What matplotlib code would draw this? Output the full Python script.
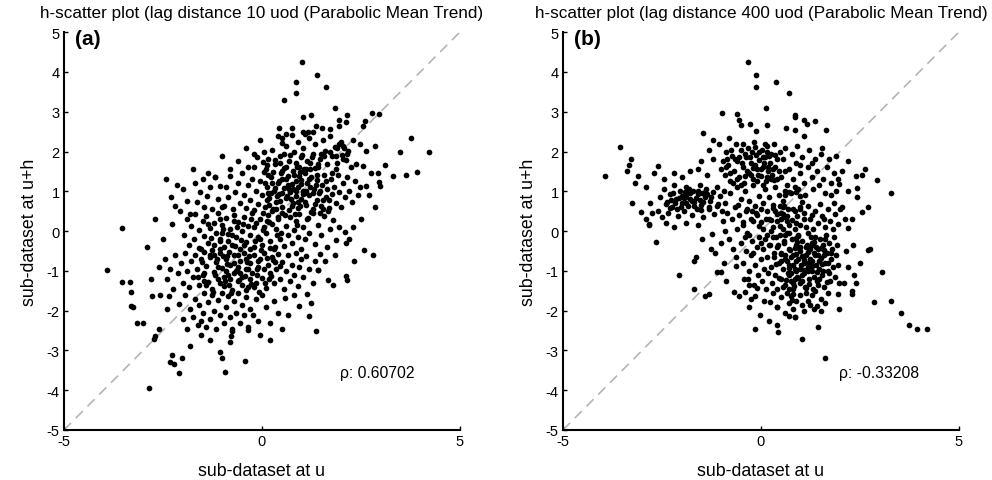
import numpy as np
import matplotlib
matplotlib.use("Agg")
import matplotlib.pyplot as plt

plt.rcParams['font.family'] = ['Liberation Sans', 'DejaVu Sans']
plt.rcParams['axes.unicode_minus'] = False

# panel (a): lag distance 10 (x = value at u, y = value at u+h)
a_x = [
    # upper core
    -0.35, -0.2, -0.05, 0.1, 0.15, 0.25, 0.32, 0.4, 0.45, 0.55, 0.6, 0.68, 0.75, 0.8, 0.88, 0.92, 1.0, 1.05,
    1.12, 1.18, 1.22, 1.3, 1.35, 1.42, 1.48, 1.55, 1.6, 1.65, 1.72, 1.78, 1.85, 1.9, 1.95, 2.02, 2.08, 2.12,
    2.18, 2.0, 1.88, 2.25, 2.3, 0.05, -0.4, 0.5, 1.1, 1.9, 2.05, 2.15, 2.05, 1.88,
    # middle core
    -0.95, -0.9, -0.85, -0.8, -0.72, -0.68, -0.6, -0.55, -0.5, -0.45, -0.4, -0.35, -0.3, -0.25, -0.2, -0.15,
    -0.1, -0.05, 0.0, 0.05, 0.08, 0.12, 0.18, 0.22, 0.28, 0.3, 0.35, 0.4, 0.42, 0.48, 0.52, 0.55, 0.6, 0.62,
    0.68, 0.7, 0.75, 0.78, 0.82, 0.85, 0.9, 0.92, 0.98, 1.0, 1.05, 1.08, 1.12, 1.15, 1.2, 1.25, 1.28, 1.32,
    1.38, 1.4, 1.45, 1.5, 1.52, 1.58, 1.62, 1.65, 1.7, 1.75, 1.78, 1.82, 1.88, 1.92, 1.95, 2.0, 2.05, 2.1,
    2.15, 2.2, 2.28, 2.35, 2.42, 2.48, 0.15, 0.65, 1.1, 0.95, 0.45, 1.35, 0.25, 0.75, 1.55, 1.0, 0.5, 1.22,
    0.85, 0.35,
    -2.43, -2.3, -2.19, -2.06, -2.0, -1.9, -1.81, -1.73, -1.7, -1.63, -1.56, -1.5, -1.45, -1.39, -1.3, -1.25,
    -1.18, -1.1, -1.06, -1.02, -1.35, -2.15,
    # around zero
    -1.98, -1.9, -1.85, -1.8, -1.72, -1.68, -1.6, -1.55, -1.5, -1.45, -1.4, -1.35, -1.3, -1.25, -1.2, -1.15,
    -1.1, -1.05, -1.0, -0.95, -0.9, -0.85, -0.8, -0.75, -0.7, -0.65, -0.6, -0.55, -0.5, -0.45, -0.4, -0.35,
    -0.3, -0.25, -0.2, -0.15, -0.1, -0.05, 0.0, 0.05, 0.1, 0.15, 0.2, 0.25, 0.3, 0.35, 0.4, 0.45, 0.5, 0.55,
    0.6, 0.65, 0.7, 0.75, 0.8, 0.85, 0.9, 0.95, 1.0, 1.05, 1.1, 1.15, 1.2, 1.3, 1.35, 1.42, 1.5, 1.58, 1.65,
    1.72, 1.8, 1.88, 1.95, -0.62, 0.12, 0.48, -0.28, 0.88, -1.05, 0.2,
    # lower core
    -2.45, -2.4, -2.32, -2.25, -2.2, -2.12, -2.05, -2.0, -1.95, -1.9, -1.85, -1.8, -1.75, -1.7, -1.65, -1.6,
    -1.55, -1.5, -1.45, -1.4, -1.35, -1.3, -1.25, -1.2, -1.15, -1.1, -1.05, -1.0, -0.95, -0.9, -0.85, -0.8,
    -0.75, -0.7, -0.65, -0.6, -0.55, -0.5, -0.45, -0.4, -0.35, -0.3, -0.25, -0.2, -0.15, -0.1, -0.05, 0.0,
    0.05, 0.1, 0.15, 0.2, 0.25, 0.3, 0.35, 0.4, 0.45, 0.5, 0.55, 0.6, 0.65, 0.7, 0.75, 0.8, 0.85, 0.9, 0.95,
    1.0, 1.05, 1.12, 1.2, 1.28, 1.35, 1.42, 1.48, -0.9, -0.7, -1.2, -0.5, -1.05, -0.3, -0.6, -0.12, -1.45,
    -0.82, 0.18, -1.62, -0.4, -0.98, 0.32,
    -2.4, -2.35, -2.09, -2.0, -1.95, -1.88, -1.82, -1.75, -1.7, -1.62, -1.58, -1.5, -1.45, -1.4, -1.35, -1.3,
    -1.25, -1.2, -1.15, -1.1, -1.05, -1.0, -0.95, -0.9, -0.85, -0.8, -0.75, -0.7, -0.65, -0.6, -0.55, -0.5,
    -0.45, -0.4, -0.35, -0.3, -0.22, -0.15, -0.1, 0.0, 0.1, 0.2, 0.3, 0.4, -1.55,
    # scattered points
    1.02, 1.39, 0.85, 1.63, 0.87, 0.56, 1.84, 2.79, 2.95, 2.61, 2.55, 1.04, 1.25, 1.96, 2.15, 2.13, 0.44,
    0.75, 0.62, 0.5, 1.04, 1.16, 1.29, 1.37, 1.53, 1.71, 1.96, 3.77, 4.23, 3.49, 2.87, 3.1, 3.31, 3.64, 3.91,
    2.95, 2.99, 2.63, 2.47, 2.64, 2.38, 2.55, 2.76, 2.93, 2.7, 2.85, 2.5, 2.3, 2.2,
    -1.18, -0.81, -0.2, -0.13, 0.03, -0.6, -1.0, -3.53, -2.27, -2.5, -2.7,
    -3.92, -2.86, -3.53, -3.32, -3.3, -3.31, -3.25, -3.16, -3.0, -2.78, -2.58, -2.61, -2.69, -2.72, -1.81,
    -2.27, -2.32, -2.22, -2.03, -2.09, -1.07, -1.0, -0.94, -0.42, -0.81, -0.78, -0.75, -1.3, -1.55, -0.36,
    1.36, 0.65, 0.93, 1.18, 1.23, 1.13, 0.59, 1.67, 1.8, 2.12, 2.15, 1.42, 2.33, 2.59, 2.8, 2.13, 2.1, 1.6,
    1.85, 0.8, 0.5, -0.05, 0.2, -2.6, -2.8, -2.9,
    # extra points in the dense upper core
    0.02, 0.12, 0.22, 0.33, 0.41, 0.52, 0.63, 0.71, 0.83, 0.94,
    1.03, 1.14, 1.24, 1.33, 1.46, 1.57, 1.66, 1.77, 0.07, 0.18,
    0.29, 0.38, 0.47, 0.58, 0.67, 0.79, 0.87, 0.97, 1.07, 1.17,
    1.27, 1.37, 1.47, 1.61, 1.72, 0.13, 0.56, 0.96, 1.42, 0.73,
    1.18, 0.32, 0.85, 1.55, 0.44, 1.08, 0.62, 1.3, 0.9, 1.7,
    0.25, 0.78, 1.22, 1.5, 0.5, 1.02, 1.38, 0.15, 0.68, 1.12,
    # extra points in the dense lower core
    -1.58, -1.47, -1.36, -1.24, -1.13, -1.02, -0.93, -0.82, -0.71, -0.62,
    -0.52, -0.41, -0.32, -0.21, -0.12, -0.02, 0.08, 0.17, 0.28, 0.38,
    0.46, -1.52, -1.4, -1.29, -1.18, -1.07, -0.97, -0.87, -0.77, -0.67,
    -0.57, -0.47, -0.37, -0.27, -0.17, -0.07, 0.03, 0.13, 0.23, 0.33,
    -1.1, -0.85, -0.6, -0.35, -0.1, -0.95, -0.7, -0.45, -0.2, 0.05,
    -1.3, -1.05, -0.8, -0.55, -0.3, -1.2, -0.75, -0.42, -0.05, -0.88,
]
a_y = [
    1.62, 1.95, 2.3, 1.55, 1.82, 2.05, 1.68, 2.38, 1.9, 1.58, 2.15, 1.75, 2.42, 1.98, 1.62, 2.25, 1.85, 2.1,
    1.55, 2.35, 1.72, 1.95, 2.2, 1.6, 1.82, 2.28, 2.02, 1.68, 2.4, 1.88, 2.12, 1.7, 2.2, 1.92, 2.08, 1.78,
    2.02, 2.25, 1.55, 1.62, 2.3, 2.0, 2.1, 2.22, 2.45, 2.1, 2.15, 1.95, 1.8, 1.88,
    0.62, 1.1, 0.85, 1.38, 0.55, 0.98, 1.22, 0.7, 1.45, 0.9, 0.58, 1.15, 0.78, 1.32, 0.52, 1.02,
    0.68, 1.25, 0.9, 1.48, 0.6, 1.12, 0.82, 1.35, 0.55, 1.0, 0.72, 1.22, 0.92, 1.45, 0.6, 1.08, 0.82, 1.3,
    0.52, 0.98, 1.18, 0.7, 1.42, 0.88, 1.1, 0.58, 1.28, 0.8, 1.02, 1.45, 0.65, 1.2, 0.9, 1.35, 0.55, 1.05,
    0.78, 1.28, 0.95, 0.62, 1.15, 1.42, 0.85, 1.05, 0.58, 1.3, 0.92, 1.12, 0.7, 1.4, 0.98, 0.6, 1.2, 0.85,
    1.35, 1.02, 0.72, 1.25, 0.9, 1.1, 0.95, 1.15, 0.95, 1.38, 0.75, 0.68, 1.2, 0.62, 0.78, 1.18, 1.32, 1.12,
    1.0, 0.55,
    1.32, 0.85, 0.64, 0.51, 1.05, 0.75, 0.43, 1.56, 1.2, 0.72, 0.97, 1.3, 0.6, 0.89, 1.12, 0.55,
    1.37, 0.8, 1.14, 0.6, 1.45, 1.15,
    -0.1, 0.3, -0.35, 0.12, -0.2, 0.42, 0.02, -0.45, 0.25, -0.12, 0.38, -0.3, 0.08, -0.48, 0.2, -0.05,
    0.45, -0.25, 0.15, -0.4, 0.32, -0.08, 0.05, -0.35, 0.4, -0.15, 0.22, -0.45, 0.0, 0.35, -0.28, 0.12,
    -0.1, 0.45, -0.4, 0.2, -0.15, 0.3, -0.35, 0.1, -0.05, 0.4, -0.25, 0.18, -0.45, 0.05, 0.3, -0.2, 0.45, -0.38,
    0.12, -0.1, 0.35, -0.3, 0.02, 0.25, -0.15, 0.42, -0.45, 0.1, -0.2, 0.3, -0.05, 0.45, -0.32, 0.15, -0.1, 0.38, -0.4,
    0.05, 0.28, -0.22, 0.1, 0.1, 0.25, -0.05, 0.3, 0.15, 0.3, -0.42,
    -0.7, -1.2, -0.95, -1.45, -0.6, -1.05, -0.8, -1.3, -0.55, -1.0, -1.4, -0.75, -1.15, -0.6, -0.95, -1.35,
    -0.7, -1.1, -0.52, -0.88, -1.28, -0.65, -1.45, -1.02, -0.78, -1.2, -0.55, -0.92, -1.38, -0.7, -1.1, -0.85,
    -1.48, -0.6, -1.0, -1.25, -0.75, -1.15, -0.55, -0.95, -1.4, -0.8, -1.05, -0.6, -1.3, -0.9, -0.7, -1.18,
    -0.55, -1.42, -0.85, -1.05, -0.65, -1.3, -0.95, -0.58, -1.2, -0.78, -1.45, -1.0, -0.6, -1.25, -0.85, -1.1, -0.55, -1.38, -0.9,
    -0.7, -1.15, -0.62, -0.95, -1.3, -0.75, -0.97, -0.58, -1.0, -0.8, -0.6, -1.35, -1.3, -1.2, -0.9, -1.1, -1.25,
    -1.35, -1.2, -1.15, -0.7, -0.62, -0.78,
    -1.96, -1.63, -1.83, -2.2, -1.6, -2.45, -1.95, -2.15, -1.7, -2.35, -1.85, -2.05, -1.55, -2.4, -1.78, -2.2,
    -1.6, -2.0, -2.45, -1.72, -2.1, -1.55, -2.3, -1.9, -1.62, -2.15, -2.45, -1.75, -2.05, -1.55, -2.3, -1.85,
    -2.1, -1.65, -2.4, -1.95, -2.11, -1.7, -2.25, -1.6, -1.9, -2.3, -1.75, -2.05, -2.25,
    4.24, 3.92, 3.75, 3.63, 3.48, 3.3, 3.09, 2.98, 2.94, 2.77, 2.65, 2.86, 2.91, 2.8, 2.91, 2.75, 2.6,
    2.58, 2.44, 2.33, 2.5, 2.5, 2.5, 2.65, 2.58, 2.56, 2.63, 2.33, 1.98, 1.99, 2.13, 1.66, 1.39, 1.41, 1.49,
    1.24, 1.14, 1.14, 2.18, 2.01, 1.68, 1.64, 1.47, 1.47, 0.9, 0.6, 0.3, 0.1, -0.2,
    1.37, 1.56, 1.6, 1.85, 1.73, 1.75, 1.9, 0.08, 0.18, -0.2, 0.3,
    -0.97, -3.95, -1.29, -1.27, -1.52, -1.88, -1.9, -2.3, -2.31, -1.63, -1.61, -2.46, -2.65, -2.71, -2.9,
    -3.12, -3.28, -3.34, -3.2, -3.57, -3.03, -3.2, -3.53, -3.26, -2.8, -2.65, -2.5, -2.75, -2.6, -2.48,
    -2.52, -2.11, -1.88, -2.14, -1.8, -1.59, -1.69, -1.22, -1.36, -1.12, -1.22, -0.97, -0.74, -0.47, -0.6, -0.3, -0.03, -0.75,
    -0.6, -1.6, -2.45, -2.6, -2.75, -0.9, -1.2, -0.4,
    0.45, 1.65, 0.95, 1.78, 0.35, 1.52, 0.88, 1.92, 0.42, 1.6,
    0.92, 1.75, 0.48, 1.58, 1.02, 1.88, 0.5, 1.45, 1.22, 0.65,
    1.48, 0.88, 1.7, 0.4, 1.38, 1.05, 1.72, 0.62, 1.55, 0.32,
    1.85, 1.15, 0.45, 1.25, 1.98, 0.78, 1.95, 1.48, 1.68, 0.8,
    1.3, 1.08, 1.25, 0.55, 1.25, 0.72, 1.62, 0.95, 0.72, 0.78,
    0.5, 1.52, 1.55, 1.95, 0.95, 1.92, 1.4, 1.4, 1.05, 1.02,
    -0.42, -1.05, 0.18, -1.52, -0.7, -0.05, -1.25, -0.52, 0.25, -0.98,
    -0.22, -1.48, -0.62, 0.1, -0.95, -0.48, -1.3, 0.22, -0.72, -0.1,
    -0.88, -0.78, -1.35, -0.18, -1.1, -0.45, 0.05, -0.82, -1.55, -0.38,
    -1.22, 0.18, -0.78, -1.32, -0.25, -1.52, 0.02, -0.68, -1.12, -0.4,
    -0.9, -0.25, -0.6, -0.95, -0.75, -1.15, -1.05, -0.35, -1.4, -0.95,
    -0.6, -0.2, -1.2, -1.05, -0.45, -0.35, -0.1, -1.12, -0.2, -0.62,
]

# panel (b): lag distance 400
b_x = [
    -1.0, -0.95, -0.9, -0.88, -0.82, -0.78, -0.72, -0.68, -0.62, -0.6, -0.55, -0.5, -0.45, -0.42, -0.38, -0.32,
    -0.3, -0.25, -0.2, -0.18, -0.12, -0.1, -0.05, 0.0, 0.02, 0.05, 0.1, 0.12, 0.15, 0.18, 0.22, 0.25, 0.28,
    0.32, 0.35, 0.4, 0.42, 0.48, -0.15, 0.08, -0.4, 0.2, -0.05, 0.3, -0.7, -0.25, 0.45, -0.55, 0.15, -0.85,
    -2.6, -2.55, -2.5, -2.45, -2.4, -2.35, -2.3, -2.25, -2.2, -2.15, -2.1, -2.05, -2.0, -1.95, -1.9, -1.88,
    -1.85, -1.8, -1.75, -1.72, -1.68, -1.62, -1.6, -1.55, -1.5, -1.45, -1.42, -1.38, -1.32, -1.28, -1.22,
    -1.18, -1.12, -1.08, -1.02, -0.98, -0.92, -1.95, -1.78, -2.08, -1.65, -2.28, -1.48, -1.9, -1.3,
    -0.95, -0.9, -0.85, -0.78, -0.72, -0.65, -0.6, -0.55, -0.5, -0.45, -0.4, -0.35, -0.3, -0.25, -0.2, -0.15,
    -0.1, -0.05, 0.0, 0.05, 0.1, 0.15, 0.2, 0.25, 0.3, 0.35, 0.4, 0.45, 0.5, 0.55, 0.6, 0.65, -0.58, -0.22, 0.12,
    0.52, 0.55, 0.6, 0.65, 0.7, 0.75, 0.78, 0.82, 0.88, 0.92, 0.95, 1.0, 1.05, 1.1, 1.12, 1.18, 1.22, 1.28,
    1.32, 1.38, 1.42, 1.48, 1.52, 1.58, 1.62, 1.68, 1.72, 1.78, 1.85, 1.9, 1.95, 0.6, 1.0, 0.85, 1.3,
    0.55, 0.6, 0.72, 0.88, 1.0, 1.05, 0.98, 0.85, 0.68, 0.58,
    0.3, 0.35, 0.42, 0.48, 0.55, 0.62, 0.7, 0.78, 0.85, 0.92, 1.0, 1.08, 1.15, 1.2, 1.25, 1.32, 1.38, 1.45,
    1.5, 1.55, 1.62, 1.7, 1.75, 1.82, 1.88, 1.95, 2.05, 2.12, 2.2, 1.3, 0.98, 1.6, 0.5, 1.1, 1.85,
    0.22, 0.25, 0.28, 0.3, 0.33, 0.36, 0.4, 0.42, 0.45, 0.48, 0.5, 0.52, 0.55, 0.58, 0.6, 0.62, 0.65, 0.68,
    0.7, 0.72, 0.75, 0.78, 0.8, 0.82, 0.85, 0.88, 0.9, 0.92, 0.95, 0.98, 1.0, 1.02, 1.05, 1.08, 1.1, 1.12,
    1.15, 1.18, 1.2, 1.22, 1.25, 1.28, 1.3, 1.32, 1.35, 1.38, 1.4, 1.42, 1.45, 1.48, 1.5, 1.52, 1.55, 1.58,
    1.6, 1.62, 1.65, 1.68, 1.7, 1.72, 1.75, 1.78, 1.8, 1.82, 1.85, 1.88, 1.9, 1.92, 1.95, 1.98, 0.6, 0.9,
    1.1, 1.3, 1.0, 0.75, 1.2, 1.45, 0.85, 1.6, 0.7, 1.05, 1.35, 1.25, 0.5, 1.7, 0.95, 1.15, 0.8, 1.4,
    -0.5, -0.45, -0.42, -0.38, -0.35, -0.3, -0.25, -0.22, -0.18, -0.15, -0.1, -0.08, -0.05, 0.0, 0.02, 0.05,
    0.08, 0.1, 0.12, 0.15, 0.18, 0.2, -0.4, -0.2, 0.0,
    0.3, 0.4, 0.5, 0.6, 0.65, 0.7, 0.75, 0.78, 0.8, 0.82, 0.85, 0.9, 1.0, 1.05, 1.1, 1.15, 1.2, 1.3, 1.35,
    1.42, 1.51, 1.53, 1.63, 1.7, 1.25,
    # scattered points
    -0.32, -0.12, -0.12, 0.37, 0.71, -0.97, -0.6, -0.56, -0.49, -0.28, 0.13, 0.15, -0.12, 0.63, 0.85, 0.87,
    1.1, 1.16, 1.38, 1.64, 0.85, 1.08, -1.45, -1.2, -1.05, -0.8, -1.3, -1.5, -1.6, -1.2, -1.35,
    -3.56, -3.93, -3.28, -3.33, -3.37, -3.17, -3.11, -2.9, -3.26, -3.03, -2.82, -2.69, -2.61, -2.8, -2.75,
    -2.9, -2.2, -2.0, -1.8, -2.45,
    1.91, 2.21, 2.93, 2.62, 2.56, 2.4, 2.44, 2.55, 1.97, 1.99, 1.76, 1.54, 2.44, 3.3, 2.7, 2.3, 2.05, 2.2,
    -2.82, -2.64, -2.07, -1.69, -1.63, -1.69, -1.41, -1.31, -1.48, -1.23, -1.27, -1.15, -1.01, -0.93, -1.1,
    -1.01, -0.89, -0.64, -0.62, -0.68, -0.54, -0.39, -0.26, -0.3, -0.15, -0.09, -0.33, -0.3, -0.16, -0.03,
    0.21, 0.42, 0.44, 0.08, 0.24, 0.41, 0.72, 0.87, 1.04, 1.44, 1.61, 2.85, 3.07, 2.7, 2.76, 2.34, 1.95,
    1.97, 2.29, 2.3, 2.1, 2.2, 2.35, 2.5, 2.15, 2.4, 3.3, 3.55, 3.75, 3.95, 4.2,
    -0.8, -0.7, -0.6, -0.9, -1.9, -2.2, -1.6, -2.4,
    # extra points in the dense lower mass
    0.32, 0.45, 0.58, 0.7, 0.83, 0.96, 1.08, 1.21, 1.34, 1.47,
    1.6, 1.73, 0.38, 0.52, 0.64, 0.77, 0.9, 1.03, 1.16, 1.28,
    1.41, 1.54, 1.67, 0.43, 0.73, 1.13, 1.48, 0.88, 1.26, 1.76,
    0.65, 1.0, 1.38, 0.95, 1.18, 0.55, 1.58, 0.8, 1.1, 1.3,
    0.7, 1.45, 0.92, 1.2, 1.62, 0.6, 1.05, 1.36, 0.85, 1.52,
    # extra points in the upper cluster
    -0.88, -0.75, -0.6, -0.48, -0.35, -0.22, -0.08, 0.05, 0.18, 0.32,
    -0.65, -0.4, -0.15, 0.1, 0.35, -0.5, -0.28, 0.0, 0.25, -0.78,
    -0.1, 0.15, -0.45, -0.2, 0.05,
    # extra points in the left cluster
    -2.38, -2.22, -2.12, -1.98, -1.82, -1.7, -1.55, -1.4, -1.25, -1.12,
    -2.3, -2.02, -1.88, -1.75, -1.6, -1.45, -1.35, -2.18, -1.92, -1.52,
    # extra points in the middle
    -0.45, -0.3, -0.12, 0.05, 0.2, 0.38, 0.55, 0.72, 0.88, -0.38,
    -0.2, 0.0, 0.15, 0.3, 0.48, 0.65, 0.8, 0.95, -0.05, 0.25,
]
b_y = [
    1.55, 1.75, 1.4, 2.0, 1.65, 1.25, 1.9, 1.5, 2.2, 1.75, 1.35, 2.05, 1.6, 1.22, 1.85, 2.1,
    1.45, 1.7, 1.3, 2.25, 1.92, 1.55, 1.78, 1.38, 2.05, 1.62, 1.85, 1.25, 2.15, 1.5, 1.72, 1.95, 1.4,
    2.2, 1.6, 1.82, 1.3, 2.0, 1.65, 1.72, 1.95, 1.9, 2.0, 1.55, 1.2, 1.42, 1.5, 1.85, 1.35, 1.8,
    0.5, 0.85, 0.35, 1.05, 0.68, 0.45, 0.92, 0.6, 1.15, 0.8, 0.38, 1.0, 0.7, 0.5, 0.9, 1.12,
    0.62, 0.8, 0.4, 1.02, 0.72, 0.55, 0.92, 1.15, 0.65, 0.35, 0.85, 1.05, 0.55, 0.75, 0.98,
    0.42, 1.12, 0.68, 0.88, 0.5, 1.0, 0.82, 0.95, 0.82, 0.82, 0.78, 0.95, 0.7, 0.6,
    0.25, 0.7, 0.45, 0.95, 0.3, 0.6, 1.1, 0.4, 0.8, 0.22, 1.0, 0.55, 0.75, 0.3, 1.15, 0.62,
    0.4, 0.88, 0.22, 0.7, 1.05, 0.5, 0.85, 0.28, 0.65, 1.1, 0.42, 0.9, 0.3, 0.6, 1.0, 0.38, 0.65, 0.5, 0.3,
    1.35, 1.8, 2.1, 1.15, 1.55, 0.95, 1.95, 1.3, 1.7, 2.15, 1.05, 1.45, 1.85, 1.2, 0.9, 1.6, 2.05, 1.35,
    1.05, 1.8, 1.5, 1.15, 1.95, 1.3, 0.95, 1.62, 1.8, 1.2, 1.45, 1.0, 1.3, 1.5, 1.65, 1.1, 1.7,
    0.75, 0.9, 0.98, 0.98, 0.88, 0.72, 0.55, 0.5, 0.55, 0.62,
    0.1, 0.5, 0.25, 0.62, 0.05, 0.35, 0.15, 0.28, 0.05, 0.38, 0.15, 0.45, 0.1, 0.62, 0.3, 0.05, 0.5, 0.2,
    0.68, 0.38, 0.1, 0.55, 0.25, 0.05, 0.42, 0.18, 0.6, 0.3, 0.08, 0.4, 0.6, 0.3, 0.45, 0.3, 0.7,
    -0.35, -0.9, -1.3, -0.15, -0.65, -1.1, -0.4, -1.45, -0.8, -0.1, -1.2, -0.55, -0.95, -0.3, -1.35, -0.7,
    -0.05, -1.05, -0.45, -0.85, -1.25, -0.2, -0.6, -1.45, -0.95, -0.35, -0.75, -1.15, -0.1, -0.5, -1.3, -0.85,
    -0.25, -1.05, -0.62, -1.4, -0.4, -0.9, -0.05, -1.2, -0.7, -0.3, -1.0, -1.45, -0.55, -0.15, -0.85, -1.25,
    -0.45, -0.95, -0.2, -0.68, -1.1, -0.35, -1.4, -0.8, -0.1, -0.55, -1.0, -0.3, -1.25, -0.7, -0.45, -0.9,
    -0.15, -1.15, -0.6, -0.35, -0.85, -1.3, -0.6, -1.0, -0.8, -0.75, -0.4, -0.65, -1.0, -0.6, -1.2, -0.6,
    -1.1, -1.25, -1.15, -0.45, -0.75, -0.8, -0.7, -0.6, -0.85, -0.4,
    -0.3, -0.8, -1.2, -0.5, -0.05, -1.0, -0.6, -0.25, -1.35, -0.85, -0.4, -1.1, -0.15, -0.7, -1.25, -0.45,
    -0.95, -0.2, -1.45, -0.65, -1.05, -0.35, -0.15, -0.55, -0.3,
    -1.55, -1.9, -1.65, -2.05, -1.55, -1.8, -1.62, -1.72, -1.95, -1.58, -2.15, -1.75, -1.6, -1.85, -2.0,
    -1.55, -1.75, -1.6, -1.95, -1.88, -2.0, -1.71, -1.8, -1.55, -1.85,
    4.24, 3.92, 3.63, 3.75, 3.48, 2.98, 2.94, 2.8, 2.66, 2.69, 3.09, 2.66, 2.52, 2.6, 2.91, 2.86,
    2.79, 2.68, 2.77, 2.55, 2.55, 2.4, 2.46, 2.3, 2.2, 2.35, 2.05, 1.75, 1.55, 1.8, 1.4,
    2.12, 1.39, 1.8, 1.66, 1.51, 1.2, 1.39, 1.1, 0.7, 0.48, 0.18, 1.46, 1.64, 0.7, 0.45,
    0.3, 1.45, 1.35, 1.5, 1.3,
    1.89, 1.77, 1.28, 1.56, 1.41, 1.39, 1.09, 0.47, 1.18, 0.55, 0.9, 2.1, 0.85, 0.95, 0.6, 0.3, 1.5, 1.0,
    0.15, -0.28, -1.1, -0.76, -0.64, -1.46, -1.63, -1.58, -0.2, -0.08, -0.45, -0.55, -0.3, -0.79, -1.04,
    -1.04, -1.25, -0.89, -0.66, -1.54, -1.63, -1.54, -1.71, -1.92, -1.63, -1.42, -1.21, -1.36, -2.46, -2.11,
    -2.25, -2.36, -2.53, -1.75, -1.78, -1.9, -2.14, -2.17, -2.71, -2.4, -3.2, -1.78, -1.04, -0.47, -0.44, -0.35, -1.58,
    -1.96, -1.5, -1.58, -1.3, -0.9, -1.1, -0.8, -0.5, -1.3, -1.75, -2.05, -2.35, -2.45, -2.45,
    -0.2, -0.45, 0.05, 0.0, 0.2, 0.1, 0.15, 0.2,
    -0.55, -1.18, -0.25, -0.92, -1.38, -0.42, -0.72, -1.32, -0.28, -1.2,
    -0.48, -1.05, -0.82, -0.58, -1.22, -1.05, -0.18, -1.1, -0.35, -0.88,
    -1.02, -0.82, -1.28, -0.35, -0.48, -1.42, -0.75, -0.58, -0.15, -0.55,
    -0.75, -0.95, -0.6, -1.18, -0.52, -1.4, -1.0, -1.3, -0.98, -0.35,
    -1.45, -1.35, -0.28, -0.8, -0.2, -0.1, -0.62, -1.5, -0.42, -0.42,
    1.6, 2.05, 1.3, 1.72, 1.52, 1.98, 1.42, 1.85, 1.62, 1.28,
    1.82, 1.38, 2.12, 2.2, 1.92, 1.15, 1.85, 1.55, 1.3, 1.45,
    1.25, 1.98, 2.18, 1.58, 1.15,
    0.72, 0.95, 0.55, 0.88, 1.05, 0.62, 0.78, 0.98, 0.85, 0.62,
    0.58, 0.6, 0.85, 0.75, 1.02, 0.72, 0.92, 0.7, 0.98, 0.52,
    0.15, -0.1, 0.45, 0.05, 0.3, -0.15, 0.42, -0.05, 0.2, 0.5,
    0.25, 0.55, -0.1, 0.58, 0.12, 0.25, 0.55, -0.12, 0.12, 0.0,
]

panels = [
    ('h-scatter plot (lag distance 10 uod (Parabolic Mean Trend)', '(a)', a_x, a_y, '\u03c1: 0.60702'),
    ('h-scatter plot (lag distance 400 uod (Parabolic Mean Trend)', '(b)', b_x, b_y, '\u03c1: -0.33208'),
]

fig = plt.figure(figsize=(9.92, 4.81), dpi=100)
lefts = [0.0645, 0.5675]

for left, (title, tag, xs, ys, rho) in zip(lefts, panels):
    ax = fig.add_axes([left, 0.104, 0.399, 0.827])
    ax.plot([-5, 5], [-5, 5], color='#b5b5b5', lw=1.2, dashes=(6, 4), zorder=1)
    ax.plot(xs, ys, 'o', color='black', ms=4.1, mec='none', zorder=2)
    ax.set_xlim(-5, 5)
    ax.set_ylim(-5, 5)
    ax.set_xticks([-5, 0, 5])
    ax.set_yticks(range(-5, 6))
    ax.tick_params(direction='in', length=3, width=1, labelsize=10.5, pad=3)
    for s in ['top', 'right']:
        ax.spines[s].set_visible(False)
    for s in ['left', 'bottom']:
        ax.spines[s].set_linewidth(1.5)
    ax.set_title(title, fontsize=12.3, pad=11)
    ax.set_xlabel('sub-dataset at u', fontsize=12.8, labelpad=10)
    ax.set_ylabel('sub-dataset at u+h', fontsize=12.8, labelpad=6)
    ax.text(-4.72, 4.85, tag, fontsize=15, fontweight='bold', va='center', ha='left')
    ax.text(1.98, -3.55, rho, fontsize=11.3, va='center', ha='left')

fig.savefig('out.png', dpi=100)
